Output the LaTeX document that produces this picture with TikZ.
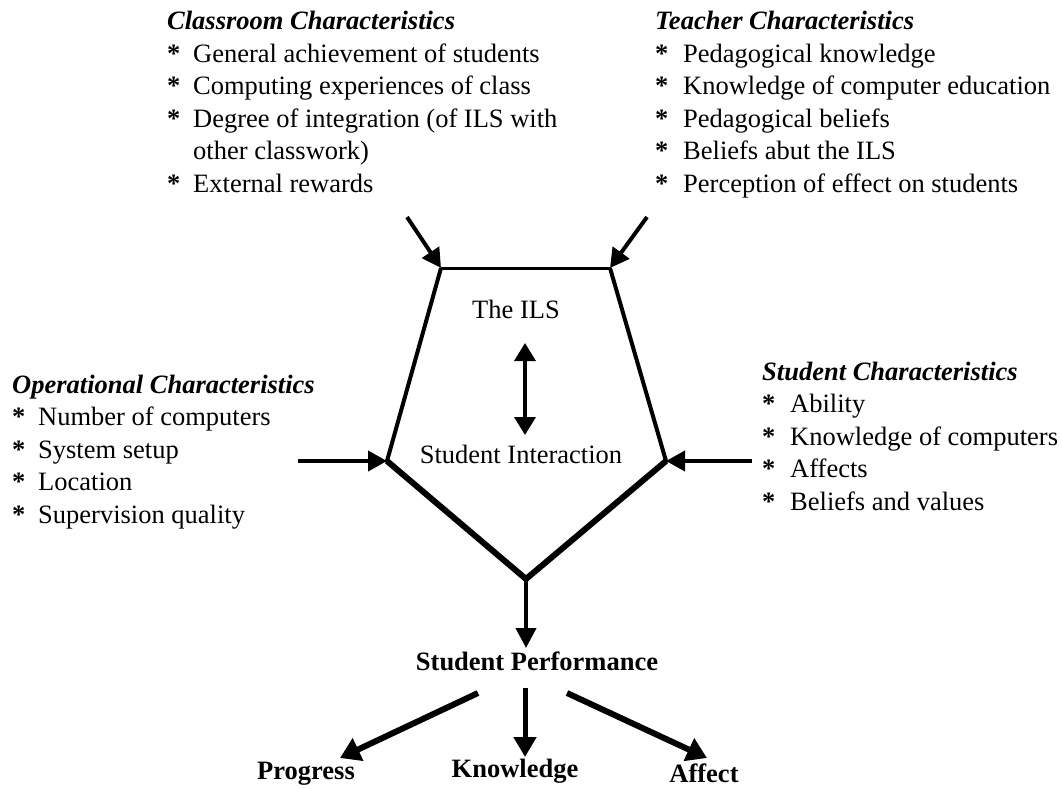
\documentclass[tikz,border=0pt]{standalone}
\usepackage{fontspec}
\setmainfont{Liberation Serif}
\usetikzlibrary{arrows.meta}

% bullet mark of the lists (braced so that it never follows \\ as a star)
\newcommand{\itemmark}{{\bfseries *}}

\begin{document}
\begin{tikzpicture}[x=1pt,y=-1pt,
  txt/.style={inner sep=0pt, font=\fontsize{26.5}{32.5}\selectfont},
  listblock/.style={txt, anchor=base west},
  label/.style={txt, anchor=base, font=\fontsize{26.5}{32.5}\selectfont\bfseries},
  feed/.style={line width=4pt, -{Triangle[length=19pt,width=20pt]}},
  outcome/.style={line width=6pt, -{Triangle[length=20pt,width=24pt]}},
  interact/.style={line width=3.5pt, {Triangle[length=18pt,width=21pt]}-{Triangle[length=18pt,width=21pt]}},
]
\useasboundingbox (0,0) rectangle (1062,789);

% influence lists
\node[listblock] (classroom) at (167,30) {\begin{tabular}[t]{@{}p{26pt}@{}l@{}}
\multicolumn{2}{@{}l@{}}{\textbf{\textit{Classroom Characteristics}}}\\
\itemmark & General achievement of students\\
\itemmark & Computing experiences of class\\
\itemmark & Degree of integration (of ILS with\\
  & other classwork)\\
\itemmark & External rewards
\end{tabular}};

\node[listblock] (teacher) at (655,30) {\begin{tabular}[t]{@{}p{28pt}@{}l@{}}
\multicolumn{2}{@{}l@{}}{\textbf{\textit{Teacher Characteristics}}}\\
\itemmark & Pedagogical knowledge\\
\itemmark & Knowledge of computer education\\
\itemmark & Pedagogical beliefs\\
\itemmark & Beliefs abut the ILS\\
\itemmark & Perception of effect on students
\end{tabular}};

\node[listblock] (operational) at (12,393) {\begin{tabular}[t]{@{}p{26pt}@{}l@{}}
\multicolumn{2}{@{}l@{}}{\textbf{\textit{Operational Characteristics}}}\\
\itemmark & Number of computers\\
\itemmark & System setup\\
\itemmark & Location\\
\itemmark & Supervision quality
\end{tabular}};

\node[listblock] (student) at (762,380) {\begin{tabular}[t]{@{}p{28pt}@{}l@{}}
\multicolumn{2}{@{}l@{}}{\textbf{\textit{Student Characteristics}}}\\
\itemmark & Ability\\
\itemmark & Knowledge of computers\\
\itemmark & Affects\\
\itemmark & Beliefs and values
\end{tabular}};

% pentagon corners
\coordinate (tl) at (441,268);
\coordinate (tr) at (610,268);
\coordinate (lv) at (387,461);
\coordinate (rv) at (666,461);
\coordinate (bv) at (526,579);

\draw[line width=3pt] (tl) -- (tr);
\draw[line width=4pt, line join=miter] (tl) -- (lv) -- (bv) -- (rv) -- (tr);
\draw[line width=6pt, line join=miter] (lv) -- (bv) -- (rv);

% inside the pentagon
\node[txt, anchor=base] (ils) at (516,318) {The ILS};
\node[txt, anchor=base] (inter) at (521,463) {Student Interaction};
\coordinate (ia) at (525,343);
\coordinate (ib) at (525,435);
\draw[interact] (ia) -- (ib);

% incoming arrows
\coordinate (cfrom) at (407,217);
\coordinate (tfrom) at (647,217);
\coordinate (ofrom) at (298,461);
\coordinate (sfrom) at (752,461);
\draw[feed] (cfrom) -- (tl);
\draw[feed] (tfrom) -- (tr);
\draw[feed] (ofrom) -- (lv);
\draw[feed] (sfrom) -- (rv);

% performance
\node[label] (perf) at (537,670) {Student Performance};
\coordinate (ptip) at (526,648);
\draw[line width=4pt, -{Triangle[length=20pt,width=20pt]}] (bv) -- (ptip);

\node[label] (prog) at (306,779) {Progress};
\node[label] (know) at (515,777) {Knowledge};
\node[label] (aff) at (704,782) {Affect};

\coordinate (p1) at (478,693);
\coordinate (p1t) at (340,758);
\coordinate (p2) at (525,688);
\coordinate (p2t) at (525,757);
\coordinate (p3) at (567,693);
\coordinate (p3t) at (707,758);
\draw[outcome] (p1) -- (p1t);
\draw[line width=5pt, -{Triangle[length=20pt,width=22pt]}] (p2) -- (p2t);
\draw[outcome] (p3) -- (p3t);
\end{tikzpicture}
\end{document}
